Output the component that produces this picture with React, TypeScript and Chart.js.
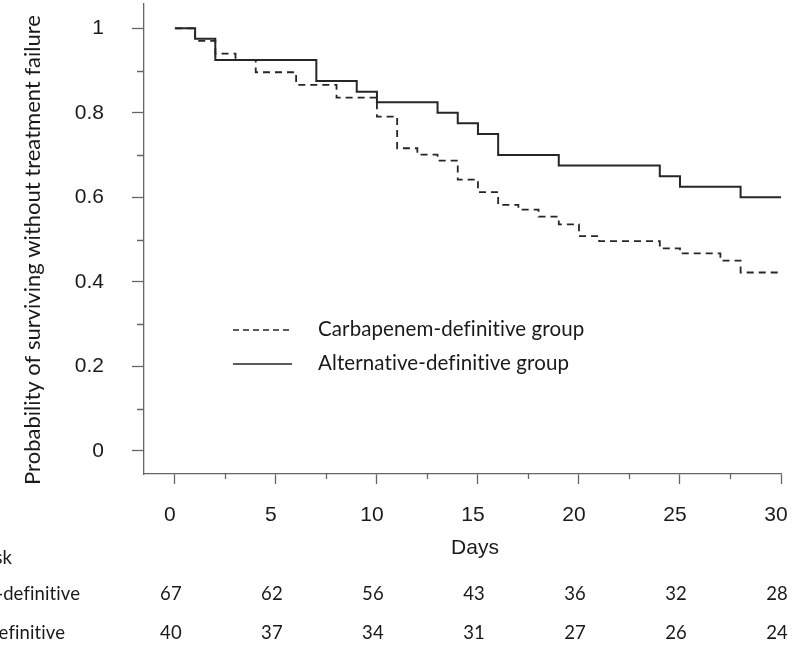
import React, { useEffect, useRef } from "react";
import { Chart, registerables } from "chart.js";

Chart.register(...registerables);

// ---- data ----
const carbapenemDays = [0, 1, 2, 3, 4, 6, 8, 10, 11, 12, 13, 14, 15, 16, 17, 18, 19, 20, 21, 24, 25, 27, 28, 30];
const carbapenemSurvival = [1, 0.97, 0.94, 0.925, 0.896, 0.866, 0.836, 0.791, 0.716, 0.701, 0.687, 0.642, 0.612, 0.582, 0.571, 0.554, 0.536, 0.508, 0.496, 0.479, 0.467, 0.45, 0.422, 0.422];
const alternativeDays = [0, 1, 2, 7, 9, 10, 13, 14, 15, 16, 19, 24, 25, 28, 30];
const alternativeSurvival = [1, 0.975, 0.925, 0.875, 0.85, 0.825, 0.8, 0.775, 0.75, 0.7, 0.675, 0.65, 0.625, 0.6, 0.6];

const xTickValues = [0, 5, 10, 15, 20, 25, 30];
const xMinorTicks = [2.5, 7.5, 12.5, 17.5, 22.5, 27.5];
const yTickValues = [0, 0.2, 0.4, 0.6, 0.8, 1];
const yTickLabels = ["0", "0.2", "0.4", "0.6", "0.8", "1"];
const yMinorTicks = [0.1, 0.3, 0.5, 0.7, 0.9];

const atRiskDays = [0, 5, 10, 15, 20, 25, 30];
const atRiskCarbapenem = [67, 62, 56, 43, 36, 32, 28];
const atRiskAlternative = [40, 37, 34, 31, 27, 26, 24];

const seriesLabels = ["Carbapenem-definitive group", "Alternative-definitive group"];
const rowLabels = ["Carbapenem-definitive", "Alternative-definitive"];
const atRiskTitle = "Number at risk";
const xTitle = "Days";
const yTitle = "Probability of surviving without treatment failure";

const LINE_COLOR = "#262626";
const AXIS_COLOR = "#666666";
const TEXT_COLOR = "#1a1a1a";
const SANS = '"Liberation Sans", Arial, sans-serif';
const HUMAN = 'Lato, "Noto Sans", sans-serif';

const setSpacing = (ctx: any, v: string) => {
  if ("letterSpacing" in ctx) ctx.letterSpacing = v;
};

const extrasPlugin = {
  id: "kmExtras",
  afterDraw(chart: any) {
    const ctx = chart.ctx as CanvasRenderingContext2D;
    const xs = chart.scales.x;
    const ys = chart.scales.y;
    const area = chart.chartArea;
    ctx.save();
    // minor ticks
    ctx.strokeStyle = AXIS_COLOR;
    ctx.lineWidth = 1.3;
    ctx.beginPath();
    yMinorTicks.forEach((v) => {
      const py = Math.round(ys.getPixelForValue(v)) + 0.5;
      ctx.moveTo(area.left - 7, py);
      ctx.lineTo(area.left, py);
    });
    xMinorTicks.forEach((v) => {
      const px = Math.round(xs.getPixelForValue(v)) + 0.5;
      ctx.moveTo(px, area.bottom);
      ctx.lineTo(px, area.bottom + 5);
    });
    ctx.stroke();

    // y title
    ctx.fillStyle = TEXT_COLOR;
    ctx.save();
    ctx.translate(33, 250);
    ctx.rotate(-Math.PI / 2);
    ctx.font = `22px ${HUMAN}`;
    ctx.textAlign = "center";
    ctx.textBaseline = "middle";
    ctx.fillText(yTitle, 0, 0);
    ctx.restore();

    // x title
    ctx.font = `21px ${SANS}`;
    ctx.textAlign = "center";
    ctx.textBaseline = "middle";
    ctx.fillText(xTitle, xs.getPixelForValue(15) - 3, 548);

    // legend
    const ds = chart.data.datasets;
    const legendRows = [330, 364];
    setSpacing(ctx, "0.1px");
    ds.forEach((d: any, i: number) => {
      ctx.save();
      ctx.strokeStyle = d.borderColor;
      ctx.lineWidth = 1.6;
      ctx.setLineDash(i === 0 ? [6, 4] : []);
      ctx.beginPath();
      ctx.moveTo(233, legendRows[i]);
      ctx.lineTo(292, legendRows[i]);
      ctx.stroke();
      ctx.restore();
      ctx.font = `20.5px ${HUMAN}`;
      ctx.textAlign = "left";
      ctx.textBaseline = "middle";
      ctx.fillText(d.label, 318, legendRows[i] - 1);
    });

    // number at risk table
    ctx.font = `18.5px ${HUMAN}`;
    ctx.textBaseline = "middle";
    ctx.textAlign = "right";
    ctx.fillText(atRiskTitle, 12, 558);
    ctx.fillText(rowLabels[0], 80, 594);
    ctx.fillText(rowLabels[1], 65, 633);
    ctx.textAlign = "center";
    atRiskDays.forEach((d, i) => {
      const px = xs.getPixelForValue(d) - 4;
      ctx.fillText(String(atRiskCarbapenem[i]), px, 594);
      ctx.fillText(String(atRiskAlternative[i]), px, 633);
    });
    setSpacing(ctx, "0px");
    ctx.restore();
  },
};

export default function App() {
  const canvasRef = useRef<HTMLCanvasElement | null>(null);

  useEffect(() => {
    document.body.style.margin = "0";
    const canvas = canvasRef.current;
    if (!canvas) return;
    const chart = new Chart(canvas, {
      type: "line",
      data: {
        datasets: [
          {
            label: seriesLabels[0],
            data: carbapenemDays.map((d, i) => ({ x: d, y: carbapenemSurvival[i] })),
            borderColor: LINE_COLOR,
            borderWidth: 1.8,
            borderDash: [7, 5],
            stepped: true,
            pointRadius: 0,
            fill: false,
          },
          {
            label: seriesLabels[1],
            data: alternativeDays.map((d, i) => ({ x: d, y: alternativeSurvival[i] })),
            borderColor: LINE_COLOR,
            borderWidth: 2,
            stepped: true,
            pointRadius: 0,
            fill: false,
          },
        ],
      },
      options: {
        animation: false,
        responsive: false,
        maintainAspectRatio: false,
        devicePixelRatio: 1,
        layout: { padding: { left: 0, right: 29, top: 4, bottom: 0 } },
        plugins: { legend: { display: false }, tooltip: { enabled: false } },
        scales: {
          x: {
            type: "linear",
            min: -1.53,
            max: 30,
            afterBuildTicks: (s: any) => {
              s.ticks = xTickValues.map((v) => ({ value: v }));
            },
            afterFit: (s: any) => {
              s.height = 189;
              s.paddingLeft = 0;
              s.paddingRight = 0;
            },
            grid: { drawOnChartArea: false, drawTicks: true, tickLength: 10, tickColor: AXIS_COLOR, tickWidth: 1.3 },
            border: { display: true, color: AXIS_COLOR, width: 1.3 },
            ticks: {
              font: { family: SANS, size: 21 },
              color: TEXT_COLOR,
              padding: 19,
              labelOffset: -5,
              maxRotation: 0,
              autoSkip: false,
              callback: (_v: any, i: number) => String(xTickValues[i]),
            },
          },
          y: {
            type: "linear",
            min: -0.055,
            max: 1.0575,
            afterBuildTicks: (s: any) => {
              s.ticks = yTickValues.map((v) => ({ value: v }));
            },
            afterFit: (s: any) => {
              s.width = 144;
              s.paddingTop = 0;
              s.paddingBottom = 0;
            },
            grid: { drawOnChartArea: false, drawTicks: true, tickLength: 12, tickColor: AXIS_COLOR, tickWidth: 1.3 },
            border: { display: true, color: AXIS_COLOR, width: 1.3 },
            ticks: {
              font: { family: SANS, size: 21 },
              color: TEXT_COLOR,
              padding: 28,
              crossAlign: "near",
              autoSkip: false,
              callback: (_v: any, i: number) => yTickLabels[i],
            },
          },
        },
      },
      plugins: [extrasPlugin],
    } as any);
    return () => chart.destroy();
  }, []);

  return (
    <div style={{ width: 810, height: 663 }}>
      <canvas ref={canvasRef} width={810} height={663} style={{ display: "block", width: 810, height: 663 }} />
    </div>
  );
}
